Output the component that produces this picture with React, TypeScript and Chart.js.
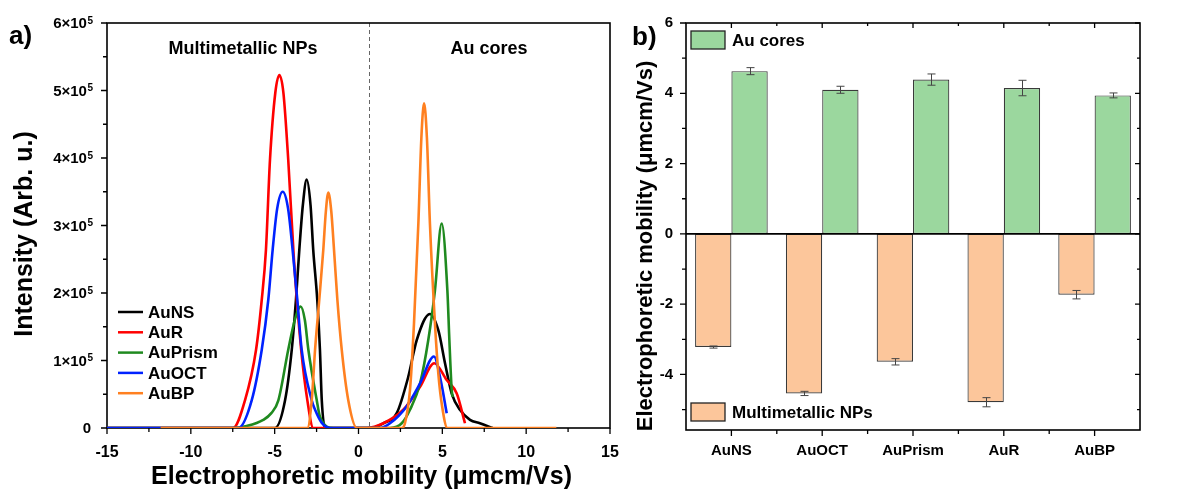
import React, { useEffect, useRef } from 'react';
import { Chart, registerables } from 'chart.js';

Chart.register(...registerables);

const FONT = "'Liberation Sans', Arial, Helvetica, sans-serif";

// ---------------- Panel a: electropherograms (intensity in units of 10^5) ----------------
const curveNames = ['AuNS', 'AuR', 'AuPrism', 'AuOCT', 'AuBP'];
const curveColors = ['#000000', '#ff0000', '#1f8a1f', '#0022ff', '#ff8020'];

const auNSMobility = [-15, -4.98, -4.38, -3.98, -3.73, -3.53, -3.32, -3.09, -2.86, -2.70, -2.46, -2.30, -2.19, -2.0, 0.69, 1.48, 2.28, 2.97, 3.47, 4.26, 4.76, 5.16, 5.56, 6.05, 6.65, 7.24, 8.0];
const auNSIntensity = [0, 0, 0.41, 1.16, 1.90, 2.64, 3.30, 3.68, 3.30, 2.64, 1.90, 1.16, 0.41, 0, 0, 0.07, 0.22, 0.76, 1.30, 1.69, 1.45, 0.96, 0.51, 0.27, 0.12, 0.07, 0];

const auRMobility = [-15, -7.48, -6.77, -6.11, -5.77, -5.52, -5.28, -4.96, -4.72, -4.48, -4.19, -3.85, -3.42, -3.05, -2.7, 0.5, 1.48, 2.67, 3.67, 4.52, 5.26, 5.86, 6.35];
const auRIntensity = [0, 0, 0.41, 1.16, 1.90, 2.64, 3.97, 4.97, 5.23, 4.97, 3.97, 2.49, 1.16, 0.41, 0, 0, 0.07, 0.27, 0.61, 0.96, 0.71, 0.51, 0.07];

const auPrismMobility = [-15, -7.5, -6.67, -5.68, -5.2, -4.78, -4.19, -3.8, -3.45, -3.2, -2.99, -2.49, -2.3, -1.5, 1.88, 2.58, 3.07, 3.67, 4.16, 4.56, 4.96, 5.30, 5.42, 5.56, 5.62];
const auPrismIntensity = [0, 0, 0.03, 0.12, 0.22, 0.41, 1.16, 1.6, 1.80, 1.6, 1.16, 0.41, 0.17, 0, 0, 0.07, 0.27, 0.66, 1.30, 2.04, 3.03, 2.04, 1.30, 0.56, 0.46];

const auOCTMobility = [-15, -7.17, -6.37, -5.77, -5.38, -5.12, -4.85, -4.52, -4.2, -3.93, -3.65, -3.39, -2.79, -2.59, -2.2, -1.7, 1.28, 1.88, 2.87, 3.67, 4.5, 4.9, 5.26];
const auOCTIntensity = [0, 0, 0.41, 1.16, 1.90, 2.64, 3.25, 3.50, 3.25, 2.64, 1.90, 1.16, 0.41, 0.27, 0.08, 0, 0, 0.07, 0.32, 0.66, 1.06, 0.71, 0.22];

const auBPMobility = [-11.8, -3.05, -2.79, -2.59, -2.34, -2.10, -1.95, -1.80, -1.62, -1.46, -1.26, -1.0, -0.61, -0.1, 2.58, 2.77, 3.07, 3.31, 3.57, 3.75, 3.91, 4.08, 4.26, 4.56, 4.76, 5.0, 5.3, 11.8];
const auBPIntensity = [0, 0, 0.41, 1.16, 1.90, 2.64, 3.2, 3.49, 3.2, 2.64, 1.90, 1.16, 0.41, 0, 0, 0.07, 0.56, 1.55, 3.03, 4.3, 4.81, 4.3, 3.03, 1.55, 0.81, 0.3, 0, 0];

const curveMobilities = [auNSMobility, auRMobility, auPrismMobility, auOCTMobility, auBPMobility];
const curveIntensities = [auNSIntensity, auRIntensity, auPrismIntensity, auOCTIntensity, auBPIntensity];

const mobilityTicks = [-15, -10, -5, 0, 5, 10, 15];
const mobilityTickLabels = ['-15', '-10', '-5', '0', '5', '10', '15'];
const intensityTicks = [0, 1, 2, 3, 4, 5, 6];
const intensityTickMantissa = ['0', '1×10', '2×10', '3×10', '4×10', '5×10', '6×10'];
const intensityTickExponent = ['', '5', '5', '5', '5', '5', '5'];
const dividerMobility = 0.6;
const regionLabels = ['Multimetallic NPs', 'Au cores'];
const regionLabelX = [-6.89, 7.78];
const regionLabelY = 5.61;

// ---------------- Panel b: mean electrophoretic mobility ----------------
const barCategories = ['AuNS', 'AuOCT', 'AuPrism', 'AuR', 'AuBP'];
const coreMobility = [4.63, 4.10, 4.39, 4.15, 3.94];
const coreError = [0.10, 0.10, 0.16, 0.22, 0.07];
const nanoMobility = [-3.22, -4.54, -3.64, -4.79, -1.73];
const nanoError = [0.03, 0.06, 0.09, 0.13, 0.12];
const barSeriesNames = ['Multimetallic NPs', 'Au cores'];
const barColors = ['#fcc69b', '#9bd79e'];
const mobilityBarTicks = [-4, -2, 0, 2, 4, 6];
const mobilityBarTickLabels = ['-4', '-2', '0', '2', '4', '6'];

const bold = (size: number) => `bold ${size}px ${FONT}`;

function tickLine(ctx: CanvasRenderingContext2D, x1: number, y1: number, x2: number, y2: number) {
  ctx.moveTo(x1, y1);
  ctx.lineTo(x2, y2);
}

const panelAPlugin = {
  id: 'panelA',
  beforeDatasetsDraw(chart: any) {
    const { ctx, chartArea: ca, scales } = chart;
    const xs = scales.x;
    const ys = scales.y;
    ctx.save();
    // divider
    ctx.strokeStyle = '#666';
    ctx.lineWidth = 1;
    ctx.setLineDash([4, 3]);
    const dx = Math.round(xs.getPixelForValue(dividerMobility)) + 0.5;
    ctx.beginPath();
    ctx.moveTo(dx, ca.top);
    ctx.lineTo(dx, ca.bottom);
    ctx.stroke();
    ctx.setLineDash([]);
    // frame
    ctx.strokeStyle = '#000';
    ctx.lineWidth = 1.6;
    ctx.strokeRect(ca.left, ca.top, ca.right - ca.left, ca.bottom - ca.top);
    // ticks
    ctx.lineWidth = 1.3;
    ctx.beginPath();
    mobilityTicks.forEach((v, i) => {
      const p = xs.getPixelForValue(v);
      tickLine(ctx, p, ca.bottom, p, ca.bottom + 6);
      if (i < mobilityTicks.length - 1) {
        const m = xs.getPixelForValue((v + mobilityTicks[i + 1]) / 2);
        tickLine(ctx, m, ca.bottom, m, ca.bottom + 4);
      }
    });
    intensityTicks.forEach((v, i) => {
      const p = ys.getPixelForValue(v);
      tickLine(ctx, ca.left, p, ca.left - 6, p);
      if (i < intensityTicks.length - 1) {
        const m = ys.getPixelForValue((v + intensityTicks[i + 1]) / 2);
        tickLine(ctx, ca.left, m, ca.left - 4, m);
      }
    });
    ctx.stroke();
    ctx.restore();
  },
  afterDraw(chart: any) {
    const { ctx, chartArea: ca, scales } = chart;
    const xs = scales.x;
    const ys = scales.y;
    ctx.save();
    ctx.fillStyle = '#000';
    // y tick labels with superscript exponent
    const rightEdge = ca.left - 14;
    intensityTicks.forEach((v, i) => {
      const p = ys.getPixelForValue(v);
      const exp = intensityTickExponent[i];
      let baseRight = rightEdge;
      if (exp) {
        ctx.font = bold(10);
        ctx.textAlign = 'right';
        ctx.textBaseline = 'alphabetic';
        ctx.fillText(exp, rightEdge, p + 0.5);
        baseRight = rightEdge - ctx.measureText(exp).width - 0.5;
      } else {
        baseRight = rightEdge - 2;
      }
      ctx.font = bold(15);
      ctx.textAlign = 'right';
      ctx.textBaseline = 'middle';
      ctx.fillText(intensityTickMantissa[i], baseRight, p + 1);
    });
    // panel letter
    ctx.font = bold(26);
    ctx.textAlign = 'left';
    ctx.textBaseline = 'middle';
    ctx.fillText('a)', 9, 37);
    // region labels
    ctx.font = bold(18);
    ctx.textAlign = 'center';
    regionLabels.forEach((t, i) => {
      ctx.fillText(t, xs.getPixelForValue(regionLabelX[i]), ys.getPixelForValue(regionLabelY));
    });
    // legend
    ctx.font = bold(17);
    ctx.textAlign = 'left';
    chart.data.datasets.forEach((ds: any, i: number) => {
      const y = ca.top + 289 + i * 20.3;
      ctx.strokeStyle = ds.borderColor;
      ctx.lineWidth = 2.5;
      ctx.beginPath();
      ctx.moveTo(ca.left + 11, y);
      ctx.lineTo(ca.left + 36, y);
      ctx.stroke();
      ctx.fillText(ds.label, ca.left + 41, y + 1);
    });
    // axis titles
    ctx.font = bold(25);
    ctx.textAlign = 'center';
    ctx.fillText('Electrophoretic mobility (μmcm/Vs)', (ca.left + ca.right) / 2 + 3, 477);
    ctx.translate(25, 234);
    ctx.rotate(-Math.PI / 2);
    ctx.fillText('Intensity (Arb. u.)', 0, 0);
    ctx.restore();
  },
};

const panelBPlugin = {
  id: 'panelB',
  beforeDatasetsDraw(chart: any) {
    const { ctx, chartArea: ca, scales } = chart;
    const xs = scales.x;
    const ys = scales.y;
    ctx.save();
    ctx.strokeStyle = '#000';
    ctx.lineWidth = 1.6;
    ctx.strokeRect(ca.left, ca.top, ca.right - ca.left, ca.bottom - ca.top);
    ctx.lineWidth = 1.3;
    ctx.beginPath();
    barCategories.forEach((_, i) => {
      const p = xs.getPixelForValue(i);
      tickLine(ctx, p, ca.bottom, p, ca.bottom + 6);
      tickLine(ctx, p, ca.top, p, ca.top + 5);
      const b = xs.getPixelForValue(i + 0.5);
      if (i < barCategories.length - 1) {
        tickLine(ctx, b, ca.bottom, b, ca.bottom + 4);
        tickLine(ctx, b, ca.top, b, ca.top + 3);
      }
    });
    mobilityBarTicks.forEach((v) => {
      const p = ys.getPixelForValue(v);
      tickLine(ctx, ca.left, p, ca.left - 6, p);
      tickLine(ctx, ca.right, p, ca.right - 5, p);
      const m = ys.getPixelForValue(v - 1);
      tickLine(ctx, ca.left, m, ca.left - 4, m);
      tickLine(ctx, ca.right, m, ca.right - 3, m);
    });
    ctx.stroke();
    ctx.restore();
  },
  afterDatasetsDraw(chart: any) {
    const { ctx, chartArea: ca, scales } = chart;
    const ys = scales.y;
    ctx.save();
    // zero line
    ctx.strokeStyle = '#000';
    ctx.lineWidth = 1.6;
    const z = ys.getPixelForValue(0);
    ctx.beginPath();
    ctx.moveTo(ca.left, z);
    ctx.lineTo(ca.right, z);
    ctx.stroke();
    // error bars
    ctx.strokeStyle = '#444';
    ctx.lineWidth = 1;
    chart.data.datasets.forEach((ds: any, di: number) => {
      const meta = chart.getDatasetMeta(di);
      meta.data.forEach((el: any, j: number) => {
        const v = ds.data[j];
        const e = ds.errors[j];
        const x = Math.round(el.x) + 0.5;
        const y1 = ys.getPixelForValue(v + e);
        const y2 = ys.getPixelForValue(v - e);
        ctx.beginPath();
        ctx.moveTo(x, y1);
        ctx.lineTo(x, y2);
        ctx.moveTo(x - 4, y1);
        ctx.lineTo(x + 4, y1);
        ctx.moveTo(x - 4, y2);
        ctx.lineTo(x + 4, y2);
        ctx.stroke();
      });
    });
    ctx.restore();
  },
  afterDraw(chart: any) {
    const { ctx, chartArea: ca } = chart;
    ctx.save();
    ctx.fillStyle = '#000';
    ctx.font = bold(26);
    ctx.textAlign = 'left';
    ctx.textBaseline = 'middle';
    ctx.fillText('b)', 12, 38);
    // legends
    ctx.font = bold(17);
    const legendRows = [
      { ds: chart.data.datasets[1], top: ca.top + 8 },
      { ds: chart.data.datasets[0], top: ca.bottom - 27 },
    ];
    legendRows.forEach(({ ds, top }) => {
      ctx.fillStyle = ds.backgroundColor;
      ctx.fillRect(ca.left + 5, top, 34, 18);
      ctx.strokeStyle = '#222';
      ctx.lineWidth = 1.3;
      ctx.strokeRect(ca.left + 5, top, 34, 18);
      ctx.fillStyle = '#000';
      ctx.fillText(ds.label, ca.left + 46, top + 10);
    });
    // y title
    ctx.font = bold(22);
    ctx.textAlign = 'center';
    ctx.translate(26, 246);
    ctx.rotate(-Math.PI / 2);
    ctx.fillText('Electrophoretic mobility (μmcm/Vs)', 0, 0);
    ctx.restore();
  },
};

export default function App() {
  const refA = useRef<HTMLCanvasElement | null>(null);
  const refB = useRef<HTMLCanvasElement | null>(null);

  useEffect(() => {
    const datasets = curveNames.map((name, i) => ({
      label: name,
      data: curveMobilities[i].map((x, k) => ({ x, y: curveIntensities[i][k] })),
      borderColor: curveColors[i],
      backgroundColor: curveColors[i],
      borderWidth: 2.6,
      pointRadius: 0,
      fill: false,
      cubicInterpolationMode: 'monotone' as const,
      order: curveNames.length - i,
    }));

    const chartA = new Chart(refA.current as HTMLCanvasElement, {
      type: 'line',
      data: { datasets },
      options: {
        responsive: false,
        animation: false,
        layout: { padding: { top: 23, right: 10, left: 0, bottom: 0 } },
        plugins: { legend: { display: false }, tooltip: { enabled: false } },
        scales: {
          x: {
            type: 'linear',
            min: -15,
            max: 15,
            afterBuildTicks: (s: any) => {
              s.ticks = mobilityTicks.map((v) => ({ value: v }));
            },
            ticks: {
              color: '#000',
              font: { family: FONT, size: 16, weight: 'bold' },
              padding: 15,
              maxRotation: 0,
              autoSkip: false,
              callback: (v: any) => mobilityTickLabels[mobilityTicks.indexOf(Number(v))] ?? '',
            },
            grid: { display: false, drawTicks: false },
            border: { display: false },
            afterFit: (s: any) => {
              s.height = 67;
              s.paddingLeft = 0;
              s.paddingRight = 0;
            },
          },
          y: {
            type: 'linear',
            min: 0,
            max: 6,
            afterBuildTicks: (s: any) => {
              s.ticks = intensityTicks.map((v) => ({ value: v }));
            },
            ticks: { display: false },
            grid: { display: false, drawTicks: false },
            border: { display: false },
            afterFit: (s: any) => {
              s.width = 107;
              s.paddingTop = 0;
              s.paddingBottom = 0;
            },
          },
        },
      },
      plugins: [panelAPlugin],
    } as any);

    const chartB = new Chart(refB.current as HTMLCanvasElement, {
      type: 'bar',
      data: {
        labels: barCategories,
        datasets: [
          {
            label: barSeriesNames[0],
            data: nanoMobility,
            errors: nanoError,
            backgroundColor: barColors[0],
            borderColor: '#3a3a3a',
            borderWidth: 1.2,
            borderSkipped: false,
            barPercentage: 1,
            categoryPercentage: 0.8,
          },
          {
            label: barSeriesNames[1],
            data: coreMobility,
            errors: coreError,
            backgroundColor: barColors[1],
            borderColor: '#3a3a3a',
            borderWidth: 1.2,
            borderSkipped: false,
            barPercentage: 1,
            categoryPercentage: 0.8,
          },
        ],
      },
      options: {
        responsive: false,
        animation: false,
        layout: { padding: { top: 23, right: 60, left: 0, bottom: 0 } },
        plugins: { legend: { display: false }, tooltip: { enabled: false } },
        scales: {
          x: {
            type: 'category',
            offset: true,
            ticks: {
              color: '#000',
              font: { family: FONT, size: 15, weight: 'bold' },
              padding: 12,
              maxRotation: 0,
              autoSkip: false,
            },
            grid: { display: false, drawTicks: false },
            border: { display: false },
            afterFit: (s: any) => {
              s.height = 65;
              s.paddingLeft = 0;
              s.paddingRight = 0;
            },
          },
          y: {
            type: 'linear',
            min: -5.58,
            max: 6,
            afterBuildTicks: (s: any) => {
              s.ticks = mobilityBarTicks.map((v) => ({ value: v }));
            },
            ticks: {
              color: '#000',
              font: { family: FONT, size: 15, weight: 'bold' },
              padding: 13,
              autoSkip: false,
              callback: (v: any) => mobilityBarTickLabels[mobilityBarTicks.indexOf(Number(v))] ?? '',
            },
            grid: { display: false, drawTicks: false },
            border: { display: false },
            afterFit: (s: any) => {
              s.width = 66;
              s.paddingTop = 0;
              s.paddingBottom = 0;
            },
          },
        },
      },
      plugins: [panelBPlugin],
    } as any);

    return () => {
      chartA.destroy();
      chartB.destroy();
    };
  }, []);

  return (
    <div style={{ position: 'fixed', left: 0, top: 0, width: 1200, height: 495, background: '#fff' }}>
      <canvas ref={refA} width={620} height={495} style={{ position: 'absolute', left: 0, top: 0 }} />
      <canvas ref={refB} width={580} height={495} style={{ position: 'absolute', left: 620, top: 0 }} />
    </div>
  );
}
